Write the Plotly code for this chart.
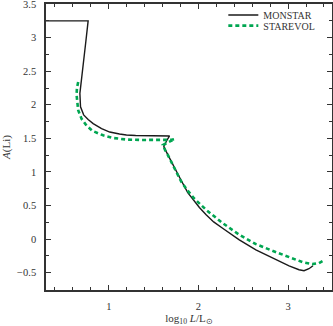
import plotly.graph_objects as go

# MONSTAR (black solid)
monstar_x = [0.30, 0.77, 0.745, 0.722, 0.70, 0.678, 0.685, 0.72, 0.77, 0.826, 0.92, 1.011, 1.12, 1.197, 1.30, 1.456, 1.60, 1.678,
             1.644, 1.614, 1.641, 1.696, 1.789, 1.881, 1.95, 2.011, 2.086, 2.17, 2.27, 2.456, 2.641, 2.826, 3.011, 3.122, 3.178, 3.233, 3.278]
monstar_y = [3.25, 3.25, 2.95, 2.66, 2.40, 2.17, 1.97, 1.85, 1.78, 1.72, 1.645, 1.594, 1.565, 1.55, 1.542, 1.538, 1.536, 1.536,
             1.461, 1.376, 1.302, 1.153, 0.92, 0.69, 0.57, 0.47, 0.36, 0.255, 0.16, -0.012, -0.161, -0.284, -0.399, -0.458, -0.473, -0.443, -0.399]

# STAREVOL (green dashed)
starevol_x = [0.659, 0.645, 0.641, 0.648, 0.659, 0.697, 0.752, 0.82, 0.937, 1.05, 1.197, 1.35, 1.456, 1.60, 1.66, 1.70, 1.735,
              1.68, 1.63, 1.603, 1.63, 1.66, 1.733, 1.808, 1.88, 1.956, 2.086, 2.27, 2.456, 2.641, 2.826, 3.011, 3.159, 3.27, 3.344, 3.41]
starevol_y = [2.34, 2.25, 2.15, 2.03, 1.92, 1.79, 1.69, 1.61, 1.545, 1.505, 1.482, 1.476, 1.475, 1.475, 1.475, 1.478, 1.49,
              1.45, 1.42, 1.40, 1.32, 1.25, 1.055, 0.856, 0.72, 0.60, 0.435, 0.237, 0.063, -0.076, -0.176, -0.275, -0.344, -0.374, -0.359, -0.31]

font_family = "Liberation Serif, Times New Roman, serif"
ink = "#333333"

fig = go.Figure()
fig.add_trace(go.Scatter(x=monstar_x, y=monstar_y, mode="lines", name="MONSTAR",
                         line=dict(color="#1a1a1a", width=1.4), legend="legend"))
fig.add_trace(go.Scatter(x=starevol_x, y=starevol_y, mode="lines", name="STAREVOL",
                         line=dict(color="#00a651", width=2.6, dash="4px,3px"), legend="legend2"))

axis_common = dict(
    showgrid=False, zeroline=False, showline=True, linecolor=ink, linewidth=1.5,
    mirror="ticks", ticks="inside", ticklen=5, tickwidth=1, tickcolor=ink,
    tickfont=dict(family=font_family, size=10.5, color=ink), automargin=False,
    ticklabeloverflow="allow",
)

fig.update_xaxes(range=[0.3, 3.49], dtick=1, tick0=0,
                 minor=dict(dtick=0.2, tick0=0, ticks="inside", ticklen=3, tickcolor=ink),
                 title=dict(text="log<sub>10</sub> <i>L</i>/L<sub>⊙</sub>", font=dict(family=font_family, size=11, color=ink), standoff=4),
                 ticklabelstandoff=6, **axis_common)
fig.update_yaxes(range=[-0.76, 3.502], dtick=0.5, tick0=0,
                 minor=dict(dtick=0.25, tick0=0, ticks="inside", ticklen=3, tickcolor=ink),
                 title=dict(text="<i>A</i>(Li)", font=dict(family=font_family, size=11, color=ink), standoff=4),
                 ticklabelstandoff=6, **axis_common)

legend_common = dict(xanchor="left", yanchor="top", bgcolor="rgba(0,0,0,0)", borderwidth=0,
                     font=dict(family=font_family, size=10, color=ink), itemwidth=30)

fig.update_layout(
    width=333, height=326,
    margin=dict(l=46, r=1, t=4, b=36, autoexpand=False),
    plot_bgcolor="white", paper_bgcolor="white",
    font=dict(family=font_family, size=11, color=ink),
    legend=dict(x=0.62, y=1.012, **legend_common),
    legend2=dict(x=0.62, y=0.975, **legend_common),
    showlegend=True,
)

fig.write_html("out.html", config={"displayModeBar": False},
               post_script="document.body.style.margin='0';document.body.style.padding='0';document.body.style.overflow='hidden';")
